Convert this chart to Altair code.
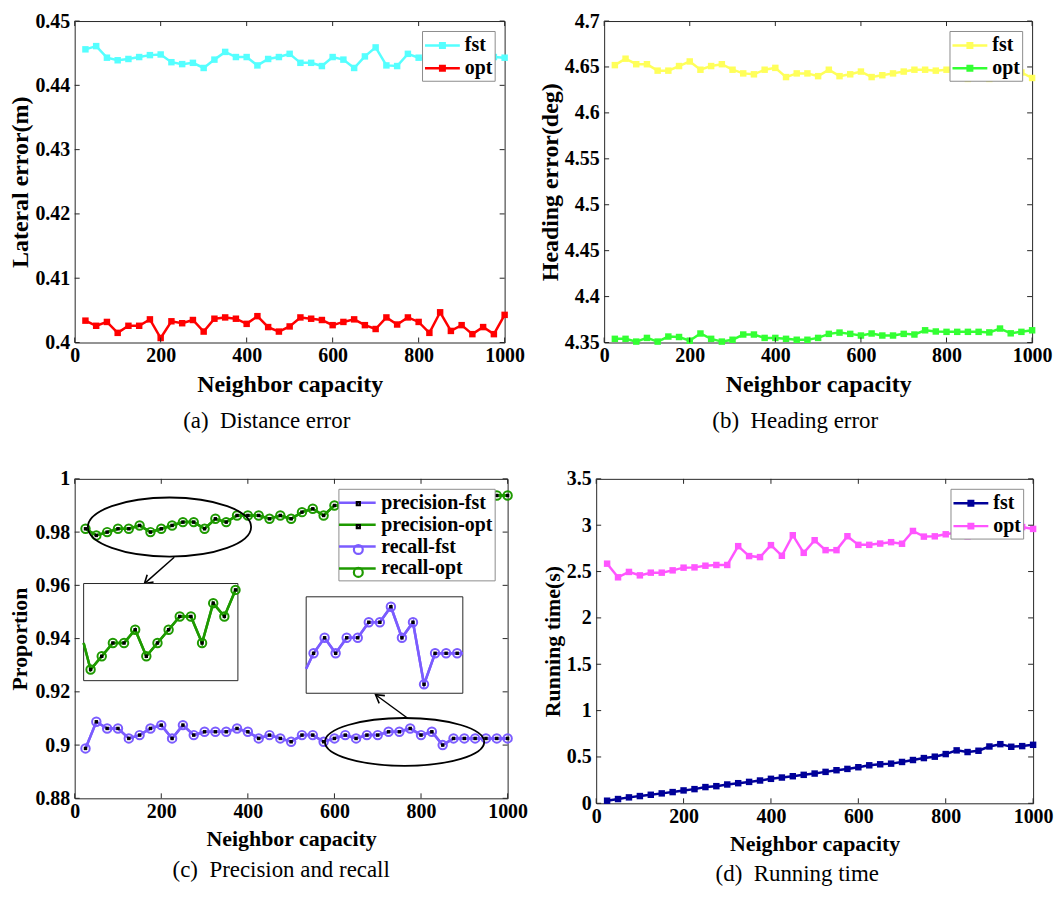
import altair as alt
import pandas as pd

# ---------------- data ----------------
capacity = [25, 50, 75, 100, 125, 150, 175, 200, 225, 250, 275, 300, 325, 350, 375, 400,
            425, 450, 475, 500, 525, 550, 575, 600, 625, 650, 675, 700, 725, 750, 775, 800,
            825, 850, 875, 900, 925, 950, 975, 1000]

lat_fst = [0.4456, 0.4461, 0.4443, 0.4439, 0.4441, 0.4444, 0.4447, 0.4448, 0.4436, 0.4433,
           0.4435, 0.4427, 0.4440, 0.4452, 0.4444, 0.4444, 0.4431, 0.4441, 0.4444, 0.4449,
           0.4435, 0.4435, 0.4430, 0.4444, 0.4440, 0.4427, 0.4445, 0.4459, 0.4431, 0.4430,
           0.4449, 0.4443, 0.4440, 0.4446, 0.4441, 0.4444, 0.4447, 0.4442, 0.4444, 0.4443]
lat_opt = [0.4034, 0.4026, 0.4032, 0.4015, 0.4026, 0.4026, 0.4036, 0.4007, 0.4033, 0.4030,
           0.4035, 0.4017, 0.4037, 0.4039, 0.4037, 0.4029, 0.4041, 0.4024, 0.4017, 0.4025,
           0.4039, 0.4037, 0.4035, 0.4027, 0.4032, 0.4036, 0.4027, 0.4021, 0.4039, 0.4028,
           0.4039, 0.4032, 0.4015, 0.4047, 0.4018, 0.4027, 0.4013, 0.4024, 0.4013, 0.4043]

head_fst = [4.652, 4.659, 4.653, 4.653, 4.646, 4.646, 4.651, 4.656, 4.647, 4.651,
            4.653, 4.647, 4.643, 4.642, 4.647, 4.649, 4.639, 4.643, 4.643, 4.640,
            4.647, 4.640, 4.642, 4.645, 4.639, 4.641, 4.643, 4.645, 4.647, 4.647,
            4.646, 4.647, 4.646, 4.637, 4.644, 4.637, 4.645, 4.644, 4.644, 4.638]
head_opt = [4.354, 4.354, 4.351, 4.355, 4.351, 4.3565, 4.356, 4.352, 4.3598, 4.354,
            4.351, 4.353, 4.3587, 4.3587, 4.355, 4.355, 4.354, 4.353, 4.353, 4.355,
            4.3594, 4.3608, 4.3594, 4.3576, 4.3598, 4.3576, 4.3576, 4.3594, 4.3587, 4.3633,
            4.362, 4.3616, 4.3616, 4.3616, 4.3616, 4.361, 4.3652, 4.360, 4.3616, 4.3633]

prec_fst = [0.89875, 0.90875, 0.90625, 0.90625, 0.9025, 0.90375, 0.90625, 0.9075, 0.9025, 0.9075,
            0.90375, 0.905, 0.905, 0.905, 0.90625, 0.905, 0.9025, 0.90375, 0.9025, 0.90125,
            0.90375, 0.90375, 0.90125, 0.9025, 0.90375, 0.9025, 0.90375, 0.90375, 0.905, 0.905,
            0.90625, 0.90375, 0.905, 0.9, 0.9025, 0.9025, 0.9025, 0.9025, 0.9025, 0.9025]
prec_opt = [0.98125, 0.97875, 0.98, 0.98125, 0.98125, 0.9825, 0.98, 0.98125, 0.9825, 0.98375,
            0.98375, 0.98125, 0.985, 0.98375, 0.98625, 0.98625, 0.98625, 0.985, 0.98625, 0.985,
            0.9875, 0.98875, 0.98625, 0.99, 0.99, 0.98875, 0.99, 0.99125, 0.99, 0.99125,
            0.9925, 0.99125, 0.9925, 0.9925, 0.99375, 0.9925, 0.99375, 0.99375, 0.99375, 0.99375]
rec_fst = [0.89875, 0.90875, 0.90625, 0.90625, 0.9025, 0.90375, 0.90625, 0.9075, 0.9025, 0.9075,
           0.90375, 0.905, 0.905, 0.905, 0.90625, 0.905, 0.9025, 0.90375, 0.9025, 0.90125,
           0.90375, 0.90375, 0.90125, 0.9025, 0.90375, 0.9025, 0.90375, 0.90375, 0.905, 0.905,
           0.90625, 0.90375, 0.905, 0.9, 0.9025, 0.9025, 0.9025, 0.9025, 0.9025, 0.9025]
rec_opt = [0.98125, 0.97875, 0.98, 0.98125, 0.98125, 0.9825, 0.98, 0.98125, 0.9825, 0.98375,
           0.98375, 0.98125, 0.985, 0.98375, 0.98625, 0.98625, 0.98625, 0.985, 0.98625, 0.985,
           0.9875, 0.98875, 0.98625, 0.99, 0.99, 0.98875, 0.99, 0.99125, 0.99, 0.99125,
           0.9925, 0.99125, 0.9925, 0.9925, 0.99375, 0.9925, 0.99375, 0.99375, 0.99375, 0.99375]

time_fst = [0.028, 0.046, 0.064, 0.078, 0.092, 0.107, 0.121, 0.139, 0.153, 0.175,
            0.185, 0.203, 0.217, 0.231, 0.246, 0.264, 0.278, 0.292, 0.307, 0.321,
            0.339, 0.357, 0.371, 0.389, 0.41, 0.421, 0.428, 0.446, 0.467, 0.488,
            0.503, 0.531, 0.571, 0.553, 0.567, 0.613, 0.638, 0.61, 0.617, 0.631]
time_opt = [2.585, 2.438, 2.496, 2.459, 2.488, 2.488, 2.513, 2.542, 2.545, 2.563,
            2.571, 2.571, 2.774, 2.667, 2.656, 2.785, 2.67, 2.892, 2.702, 2.838,
            2.731, 2.731, 2.881, 2.788, 2.788, 2.802, 2.817, 2.80, 2.938, 2.877,
            2.88, 2.902, 2.92, 2.88, 2.95, 2.93, 2.97, 2.95, 2.98, 2.96]

x_ticks = [0, 200, 400, 600, 800, 1000]
lat_ticks = [0.40, 0.41, 0.42, 0.43, 0.44, 0.45]
head_ticks = [4.35, 4.4, 4.45, 4.5, 4.55, 4.6, 4.65, 4.7]
prop_ticks = [0.88, 0.9, 0.92, 0.94, 0.96, 0.98, 1.0]
time_ticks = [0, 0.5, 1, 1.5, 2, 2.5, 3, 3.5]

two_names = ["fst", "opt"]
c_names = ["precision-fst", "precision-opt", "recall-fst", "recall-opt"]
c_marker_keys = ["m1", "m2", "m3", "m4"]

# ---------------- style ----------------
SERIF = "Liberation Serif"
INK = "#262626"
CYAN, RED = "#55FFFF", "#FF0000"
YELLOW, LGREEN = "#FFFF5A", "#33FF33"
PURPLE, DGREEN = "#7B5CFF", "#1E9A00"
NAVY, MAGENTA = "#000099", "#FF55FF"

LINE_SQ = ("M-1.4,-0.1L1.4,-0.1L1.4,0.1L-1.4,0.1Z "
           "M-0.28,-0.28L0.28,-0.28L0.28,0.28L-0.28,0.28Z")
C_LINE = "M-1.57,-0.106L1.57,-0.106L1.57,0.106L-1.57,0.106Z"
C_SQ = "M-0.13,-0.13L0.13,-0.13L0.13,0.13L-0.13,0.13Z"
C_RING = "M0.38,0A0.38,0.38,0,1,1,-0.38,0A0.38,0.38,0,1,1,0.38,0Z"
PAD_LABEL = "datum.label + '\u00a0\u00a0'"


def make_axes(yticks, ytitle, lp=5, tp=2, tfs=24):
    xaxis = alt.Axis(values=x_ticks, format="d", title="Neighbor capacity",
                     labelFlush=False, labelPadding=3, titlePadding=7, titleFontSize=tfs)
    yaxis = alt.Axis(values=yticks, format=".4~f", title=ytitle,
                     labelFlush=False, labelPadding=lp, titlePadding=tp, titleFontSize=tfs)
    return xaxis, yaxis


def xy(xf, yf, xs, ys, xaxis, yaxis):
    return dict(x=alt.X(xf, type="quantitative", scale=xs, axis=xaxis),
                y=alt.Y(yf, type="quantitative", scale=ys, axis=yaxis))


def tick_layers(yticks, xs, ys, xaxis, yaxis, W, H, L=5):
    xt = pd.DataFrame({"v": x_ticks})
    yt = pd.DataFrame({"v": yticks})
    X = alt.X("v", type="quantitative", scale=xs, axis=xaxis)
    Y = alt.Y("v", type="quantitative", scale=ys, axis=yaxis)
    bx = alt.Chart(xt).mark_rule(color=INK, strokeWidth=1)
    by = alt.Chart(yt).mark_rule(color=INK, strokeWidth=1)
    return [
        bx.encode(x=X, y=alt.value(H), y2=alt.value(H - L)),
        bx.encode(x=X, y=alt.value(0), y2=alt.value(L)),
        by.encode(y=Y, x=alt.value(0), x2=alt.value(L)),
        by.encode(y=Y, x=alt.value(W - L), x2=alt.value(W)),
    ]


def caption(text, offset, dx=0):
    return alt.TitleParams(text, orient="bottom", offset=offset, font=SERIF, fontSize=23,
                           fontWeight="normal", color="black", anchor="middle",
                           frame="bounds", dx=dx)


def std_panel(y0, y1, c0, c1, ydom, yticks, ytitle, W, H, cap, cap_off, tfs=24):
    df = pd.DataFrame({"x": capacity, "s0": y0, "s1": y1})
    xs = alt.Scale(domain=[0, 1000], nice=False, zero=False)
    ys = alt.Scale(domain=ydom, nice=False, zero=False)
    xaxis, yaxis = make_axes(yticks, ytitle, tfs=tfs)
    layers = []
    for f, c in (("s0", c0), ("s1", c1)):
        layers.append(alt.Chart(df).mark_line(color=c, strokeWidth=2.5)
                      .encode(**xy("x", f, xs, ys, xaxis, yaxis)))
        layers.append(alt.Chart(df).mark_square(color=c, size=42, opacity=1)
                      .encode(**xy("x", f, xs, ys, xaxis, yaxis)))
    layers += tick_layers(yticks, xs, ys, xaxis, yaxis, W, H)
    leg = alt.Legend(title=None, orient="top-right", offset=10, symbolType=LINE_SQ,
                     symbolSize=625, symbolStrokeWidth=0, symbolStrokeColor="transparent",
                     symbolOffset=6, labelOffset=10, rowPadding=0, padding=2,
                     labelExpr=PAD_LABEL, fillColor="white", strokeColor="#8c8c8c")
    legend_layer = (alt.Chart(pd.DataFrame({"k": two_names})).transform_filter("false")
                    .mark_point(filled=True, opacity=1)
                    .encode(fill=alt.Fill("k:N", scale=alt.Scale(domain=two_names, range=[c0, c1]),
                                          legend=leg)))
    layers.append(legend_layer)
    return alt.layer(*layers).properties(width=W, height=H, title=caption(cap, cap_off))


def c_series(df, xs, ys, xaxis, yaxis, which=("f", "o"), line_filter=None, mark_filter=None):
    out = []
    col = {"f": PURPLE, "o": DGREEN}

    def base(f):
        ch = alt.Chart(df)
        return ch.transform_filter(f) if f else ch

    for s in which:
        for f in ("p" + s, "r" + s):
            out.append(base(line_filter).mark_line(color=col[s], strokeWidth=2.5)
                       .encode(**xy("x", f, xs, ys, xaxis, yaxis)))
    for s in which:
        out.append(base(mark_filter).mark_point(shape="circle", filled=False, color=col[s],
                                                strokeWidth=2, size=72, opacity=1)
                   .encode(**xy("x", "r" + s, xs, ys, xaxis, yaxis)))
    for s in which:
        out.append(base(mark_filter).mark_square(color="black", size=12, opacity=1)
                   .encode(**xy("x", "p" + s, xs, ys, xaxis, yaxis)))
    return out


def panel_c(W, H, cap_off, tfs):
    df = pd.DataFrame({"x": capacity, "pf": prec_fst, "po": prec_opt,
                       "rf": rec_fst, "ro": rec_opt})
    xs = alt.Scale(domain=[0, 1000], nice=False, zero=False)
    ys = alt.Scale(domain=[0.88, 1.0], nice=False, zero=False)
    xaxis, yaxis = make_axes(prop_ticks, "Proportion", lp=5, tp=3, tfs=tfs)
    main = c_series(df, xs, ys, xaxis, yaxis)
    main += tick_layers(prop_ticks, xs, ys, xaxis, yaxis, W, H)

    fx, fy = W / 435.0, H / 322.3
    # ellipses marking the zoomed regions
    ell = [
        ({"x": 219, "y": 0.9819}, "M-1,0A1,0.362,0,1,0,1,0A1,0.362,0,1,0,-1,0Z", 164 * fx),
        ({"x": 762, "y": 0.9012}, "M-1,0A1,0.3,0,1,0,1,0A1,0.3,0,1,0,-1,0Z", 160 * fx),
    ]
    for pos, path, w in ell:
        main.append(alt.Chart(pd.DataFrame([pos])).mark_point(
            shape=path, size=w * w, filled=False, stroke="black", strokeWidth=1.8, opacity=1)
            .encode(**xy("x", "y", xs, ys, xaxis, yaxis)))
    arrows = pd.DataFrame({"x": [230, 768.5], "y": [0.97055, 0.91018],
                           "x2": [161, 695], "y2": [0.96064, 0.9189]})
    main.append(alt.Chart(arrows).mark_rule(color="black", strokeWidth=1.5)
                .encode(**xy("x", "y", xs, ys, xaxis, yaxis),
                        x2=alt.X2("x2"), y2=alt.Y2("y2")))
    for i, ang in ((0, 138.4), (1, 216.2)):
        head = pd.DataFrame({"x": [arrows["x2"][i]], "y": [arrows["y2"][i]]})
        main.append(alt.Chart(head).mark_point(shape="M-1,-0.6L0,0L-1,0.6", size=260,
                                               filled=False, stroke="black", strokeWidth=1.6,
                                               opacity=1, angle=ang)
                    .encode(**xy("x", "y", xs, ys, xaxis, yaxis)))

    lx = round(265 * fx)
    leg1 = alt.Legend(title=None, orient="none", legendX=lx, legendY=10, symbolType=C_LINE,
                      symbolSize=552, symbolStrokeWidth=0, symbolStrokeColor="transparent",
                      symbolOffset=5, labelOffset=12, rowPadding=0, padding=2,
                      labelExpr=PAD_LABEL, fillColor="white", strokeColor="#8c8c8c")
    leg2 = alt.Legend(title=None, orient="none", legendX=lx, legendY=10, labelExpr="''",
                      symbolSize=552, symbolStrokeWidth=2.2, symbolFillColor="transparent",
                      symbolOffset=5, labelOffset=12, rowPadding=0, padding=2)
    main.append(alt.Chart(pd.DataFrame({"k1": c_names})).transform_filter("false")
                .mark_point(filled=True, opacity=1)
                .encode(fill=alt.Fill("k1:N", scale=alt.Scale(domain=c_names,
                                                              range=[PURPLE, DGREEN, PURPLE, DGREEN]),
                                      legend=leg1)))
    main.append(alt.Chart(pd.DataFrame({"k2": c_marker_keys})).transform_filter("false")
                .mark_point(filled=False, opacity=1, strokeWidth=2.2)
                .encode(stroke=alt.Stroke("k2:N", scale=alt.Scale(domain=c_marker_keys,
                                                                  range=["black", "black", PURPLE, DGREEN]),
                                          legend=leg2),
                        shape=alt.Shape("k2:N", scale=alt.Scale(domain=c_marker_keys,
                                                                range=[C_SQ, C_SQ, C_RING, C_RING]),
                                        legend=leg2)))
    main_layer = alt.layer(*main)

    def inset(which, xdom, xr, ydom, yr, line_f, mark_f):
        sx = alt.Scale(domain=xdom, range=[xr[0] * fx, xr[1] * fx], nice=False, zero=False, clamp=True)
        sy = alt.Scale(domain=ydom, range=[yr[0] * fy, yr[1] * fy], nice=False, zero=False, clamp=True)
        box = (alt.Chart(alt.Data(values=[{}])).mark_rect(fill="white", stroke=INK, strokeWidth=1)
               .encode(x=alt.XDatum(xdom[0], type="quantitative", scale=sx, axis=None),
                       x2=alt.X2Datum(xdom[1]),
                       y=alt.YDatum(ydom[0], type="quantitative", scale=sy, axis=None),
                       y2=alt.Y2Datum(ydom[1])))
        return alt.layer(box, *c_series(df, sx, sy, None, None, which, line_f, mark_f))

    ins1 = inset(("o",), [34.4, 380.4], [9, 164], [0.9777, 0.98685], [203.6, 105.6],
                 "datum.x <= 400", "datum.x >= 50 && datum.x <= 375")
    ins2 = inset(("f",), [583.3, 937.8], [232.6, 390], [0.89928, 0.90705], [216.3, 119],
                 "datum.x >= 575 && datum.x <= 950", "datum.x >= 600 && datum.x <= 925")
    return (alt.layer(main_layer, ins1, ins2)
            .resolve_scale(x="independent", y="independent")
            .properties(width=W, height=H,
                        title=caption("(c)\u00a0 Precision and recall", cap_off, dx=13)))


pa = std_panel(lat_fst, lat_opt, CYAN, RED, [0.40, 0.45], lat_ticks, "Lateral error(m)",
               432, 323, "(a)\u00a0 Distance error", 14)
pb = std_panel(head_fst, head_opt, YELLOW, LGREEN, [4.35, 4.7], head_ticks, "Heading error(deg)",
               430, 323, "(b)\u00a0 Heading error", 14)
pc = panel_c(435, 321, 10, 22)
pd_ = std_panel(time_fst, time_opt, NAVY, MAGENTA, [0, 3.5], time_ticks, "Running time(s)",
                439, 326, "(d)\u00a0 Running time", 9, tfs=22)

IND = dict(fill="independent", stroke="independent", shape="independent")
row1 = alt.hconcat(pa, pb, spacing=12).resolve_scale(**IND).resolve_legend(**IND)
row2 = alt.hconcat(pc, pd_, spacing=12).resolve_scale(**IND).resolve_legend(**IND)

chart = (alt.vconcat(row1, row2, spacing=34)
         .resolve_scale(**IND).resolve_legend(**IND)
         .properties(padding={"left": 0, "top": 0, "right": 0, "bottom": 0})
         .configure(background="white")
         .configure_view(stroke=INK, strokeWidth=1)
         .configure_axis(labelFont=SERIF, labelFontSize=20, labelFontWeight="bold",
                         labelColor="black", titleFont=SERIF, titleFontSize=24,
                         titleFontWeight="bold", titleColor="black", grid=False,
                         ticks=False, domain=False)
         .configure_legend(labelFont=SERIF, labelFontSize=20, labelFontWeight="bold",
                           labelColor="black"))

chart.save("out.html", embed_options={"renderer": "svg", "actions": False})
